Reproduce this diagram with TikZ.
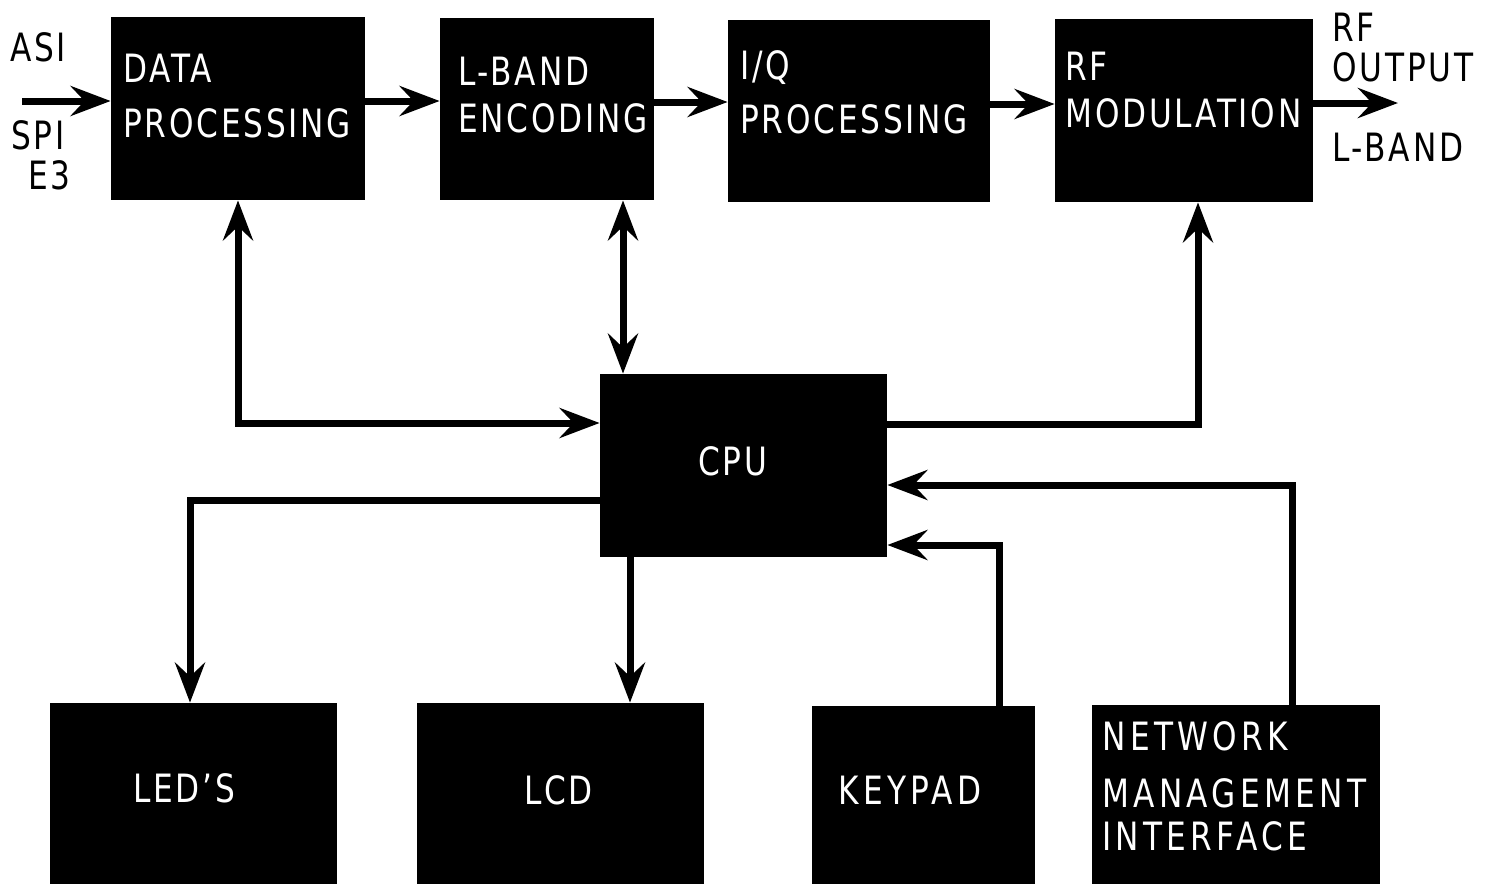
\documentclass[tikz,border=0pt]{standalone}
\usepackage{fontspec}
\setmainfont{DejaVu Sans}[FakeStretch=0.8,LetterSpace=7]
\usetikzlibrary{arrows.meta,calc}
\begin{document}
\begin{tikzpicture}[x=0.5pt,y=-0.5pt,
  box/.style={fill=black,draw=none,inner sep=0pt,rectangle},
  lbl/.style={inner sep=0pt,anchor=base west,font=\fontsize{19.5pt}{22pt}\selectfont},
  wlbl/.style={lbl,text=white},
  wide/.style={font=\fontsize{19.5pt}{22pt}\selectfont\addfontfeature{LetterSpace=11}},
  arr/.style={line width=3.5pt,-{Stealth[length=20pt,width=15pt,inset=7pt]}},
  arrr/.style={line width=3.5pt,{Stealth[length=20pt,width=15pt,inset=7pt]}-{Stealth[length=20pt,width=15pt,inset=7pt]}}
]
\useasboundingbox[fill=white] (0,0) rectangle (1494,884);

% boxes
\node[box,minimum width=127pt,minimum height=91.5pt] (dp) at (238,108.5) {};
\node[box,minimum width=107pt,minimum height=91pt] (lb) at (547,109) {};
\node[box,minimum width=131pt,minimum height=91pt] (iq) at (859,111) {};
\node[box,minimum width=129pt,minimum height=91.5pt] (rf) at (1184,110.5) {};
\node[box,minimum width=143.5pt,minimum height=91.5pt] (cpu) at (743.5,465.5) {};
\node[box,minimum width=143.5pt,minimum height=90.5pt] (led) at (193.5,793.5) {};
\node[box,minimum width=143.5pt,minimum height=90.5pt] (lcd) at (560.5,793.5) {};
\node[box,minimum width=111.5pt,minimum height=89pt] (key) at (923.5,795) {};
\node[box,minimum width=144pt,minimum height=89.5pt] (nmi) at (1236,794.5) {};

% labels
\node[lbl] (tasi) at (10,61) {ASI};
\node[lbl] (tspi) at (11,149) {SPI};
\node[lbl] (te3) at (28,189) {E3};
\node[wlbl] (tdp1) at (123,82) {DATA};
\node[wlbl] (tdp2) at (123,137) {PROCESSING};
\node[wlbl] (tlb1) at (458,85) {L-BAND};
\node[wlbl] (tlb2) at (458,132) {ENCODING};
\node[wlbl] (tiq1) at (740,79) {I/Q};
\node[wlbl] (tiq2) at (740,133) {PROCESSING};
\node[wlbl] (trf1) at (1065,80) {RF};
\node[wlbl] (trf2) at (1065,127) {MODULATION};
\node[lbl] (tout1) at (1332,41) {RF};
\node[lbl] (tout2) at (1332,81) {OUTPUT};
\node[lbl] (tout3) at (1332,161) {L-BAND};
\node[wlbl] (tcpu) at (698,475) {CPU};
\node[wlbl] (tled) at (133,802) {LED’S};
\node[wlbl] (tlcd) at (524,804) {LCD};
\node[wlbl,wide] (tkey) at (838,804) {KEYPAD};
\node[wlbl,wide] (tnmi1) at (1102,750) {NETWORK};
\node[wlbl,wide] (tnmi2) at (1102,807) {MANAGEMENT};
\node[wlbl,wide] (tnmi3) at (1102,850) {INTERFACE};

% connectors
\coordinate (in) at (22,101);
\coordinate (out) at (1398,103);
\draw[arr] (in) -- (in -| dp.west);
\draw[arr] (dp.east |- in) -- (lb.west |- in);
\draw[arr] (lb.east |- 0,102) -- (iq.west |- 0,102);
\draw[arr] (iq.east |- 0,104) -- (rf.west |- 0,104);
\draw[arr] (rf.east |- out) -- (out);
\draw[arrr] (dp.south) |- (cpu.west |- 0,423);
\draw[arrr] (lb.south -| 623,0) -- (cpu.north -| 623,0);
\draw[arr] (cpu.east |- 0,424) -| (rf.south -| 1198,0);
\draw[arr] (nmi.north -| 1292,0) |- (cpu.east |- 0,485);
\draw[arr] (key.north -| 999,0) |- (cpu.east |- 0,545);
\draw[arr] (cpu.west |- 0,500) -| (led.north -| 190,0);
\draw[arr] (cpu.south -| 630,0) -- (lcd.north -| 630,0);
\end{tikzpicture}
\end{document}
